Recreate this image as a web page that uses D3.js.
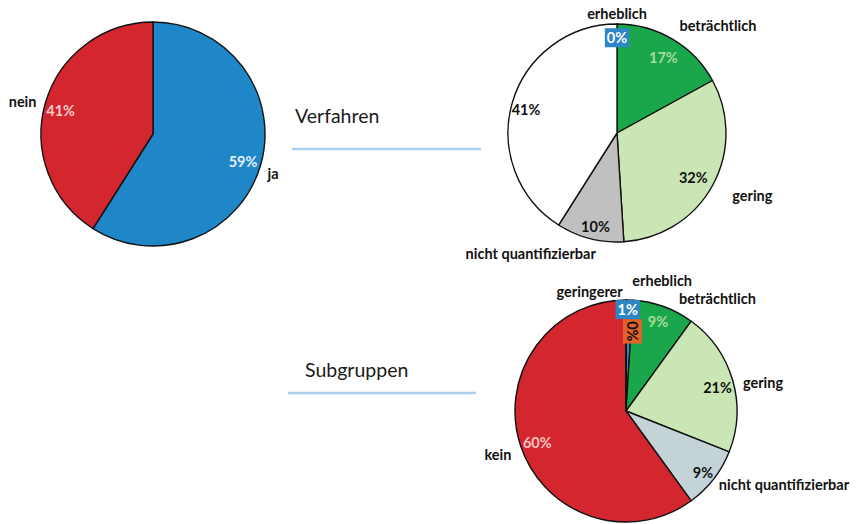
<!DOCTYPE html>
<html>
<head>
<meta charset="utf-8">
<script src="https://cdn.jsdelivr.net/npm/d3@7"></script>
<style>
  body { margin: 0; background: #fff; }
  text { font-family: Lato, "Open Sans", sans-serif; }
</style>
</head>
<body>
<div id="chart"></div>
<script>
// data
const overallLabels = ["ja", "nein"];
const overallValues = [59, 41];
const overallColors = ["#1f86c8", "#d3262f"];

const verfahrenLabels = ["erheblich", "beträchtlich", "gering", "nicht quantifizierbar", ""];
const verfahrenValues = [0, 17, 32, 10, 41];
const verfahrenColors = ["#2f86c6", "#1aa64a", "#cbe6b5", "#bfc0bf", "#ffffff"];

const subLabels = ["erheblich", "beträchtlich", "gering", "nicht quantifizierbar", "kein", "geringerer"];
const subValues = [1, 9, 21, 9, 60, 0];
const subColors = ["#2f86c6", "#1aa64a", "#cbe6b5", "#c4d3d8", "#d3262f", "#e4612a"];

const groupTitles = ["Verfahren", "Subgruppen"];

// label placement: polar (fraction of radius, angle in degrees; null = slice middle)
// pc = percent colour, box = coloured box behind the percent
const overallLayout = [
  {pr: 0.84, pa: 107, cr: 1.13, ca: 108.5, pc: "#e2f0fb"},
  {pr: 0.85, pa: 284, cr: 1.2, ca: 284, pc: "#f7cccc"}
];
const verfahrenLayout = [
  {pr: 0.87, pa: 0, cr: 1.09, ca: 0, pc: "#fff", box: true},
  {pr: 0.81, pa: 31.7, cr: 1.35, ca: 43.3, pc: "#a6dc98"},
  {pr: 0.81, pa: 120.3, cr: 1.37, ca: 115, pc: "#111"},
  {pr: 0.88, pa: 193, cr: 1.36, ca: 215.6, pc: "#111"},
  {pr: 0.86, pa: 284, pc: "#111"}
];
const subLayout = [
  {pr: 0.91, pa: 1, cr: 1.22, ca: 15.5, pc: "#fff", box: true},
  {pr: 0.85, pa: 19.8, cr: 1.3, ca: 39.3, pc: "#a6dc98"},
  {pr: 0.85, pa: 76, cr: 1.26, ca: 78.4, pc: "#111"},
  {pr: 0.89, pa: 128.8, cr: 1.57, ca: 115, pc: "#111"},
  {pr: 0.85, pa: 250.2, cr: 1.22, ca: 251, pc: "#f7c4c4"},
  {pr: 0.72, pa: 4.3, cr: 1.12, ca: 343, pc: "#111", box: true, rot: 90}
];

const W = 861, H = 524;
const svg = d3.select("#chart").append("svg")
  .attr("width", W).attr("height", H);

const pie = d3.pie().sort(null).value(d => d.value);

function polar(r, deg) {
  const a = deg * Math.PI / 180;
  return [r * Math.sin(a), -r * Math.cos(a)];
}

function drawPie(cx, cy, radius, labels, values, colors, layout) {
  const data = labels.map((l, i) => ({label: l, value: values[i], color: colors[i], lay: layout[i]}));
  const arcs = pie(data);
  const arc = d3.arc().innerRadius(0).outerRadius(radius);
  const g = svg.append("g").attr("transform", `translate(${cx},${cy})`);

  g.selectAll("path")
    .data(arcs)
    .join("path")
      .attr("d", arc)
      .attr("fill", d => d.data.color)
      .attr("stroke", "#111")
      .attr("stroke-width", 1.4)
      .attr("stroke-linejoin", "round");

  arcs.forEach((d, i) => {
    const lay = d.data.lay;
    const mid = (d.startAngle + d.endAngle) / 2 * 180 / Math.PI;
    const pa = lay.pa == null ? mid : lay.pa;
    const [px, py] = polar(radius * lay.pr, pa);
    const pg = g.append("g").attr("transform", `translate(${px},${py}) rotate(${lay.rot || 0})`);
    const t = pg.append("text")
      .attr("text-anchor", "middle")
      .attr("dy", "0.35em")
      .attr("font-size", 14.5)
      .attr("font-weight", "bold")
      .attr("fill", lay.pc)
      .text(d3.format(".0f")(d.data.value) + "%");
    if (lay.box) {
      const bb = t.node().getBBox();
      pg.insert("rect", "text")
        .attr("x", bb.x - 2).attr("y", bb.y - 1)
        .attr("width", bb.width + 4).attr("height", bb.height + 2)
        .attr("fill", d.data.color);
    }
    if (d.data.label && lay.cr) {
      const [lx, ly] = polar(radius * lay.cr, lay.ca);
      g.append("text")
        .attr("x", lx).attr("y", ly)
        .attr("text-anchor", "middle")
        .attr("dy", "0.35em")
        .attr("font-size", 14.5)
        .attr("font-weight", "bold")
        .attr("fill", "#111")
        .text(d.data.label);
    }
  });
}

drawPie(153, 134, 112, overallLabels, overallValues, overallColors, overallLayout);
drawPie(617, 133, 109, verfahrenLabels, verfahrenValues, verfahrenColors, verfahrenLayout);
drawPie(626, 411, 111, subLabels, subValues, subColors, subLayout);

// group titles with their connector lines
const titleY = [123, 377];
const lineY = [149, 393];
const lineX = [[292, 481], [288, 476]];
const titleX = [295, 305];
groupTitles.forEach((t, i) => {
  svg.append("text")
    .attr("x", titleX[i]).attr("y", titleY[i])
    .attr("font-size", 19.5)
    .attr("fill", "#1a1a1a")
    .text(t);
  svg.append("line")
    .attr("x1", lineX[i][0]).attr("x2", lineX[i][1])
    .attr("y1", lineY[i]).attr("y2", lineY[i])
    .attr("stroke", "#a9d0ee")
    .attr("stroke-width", 2.5);
});
</script>
</body>
</html>
